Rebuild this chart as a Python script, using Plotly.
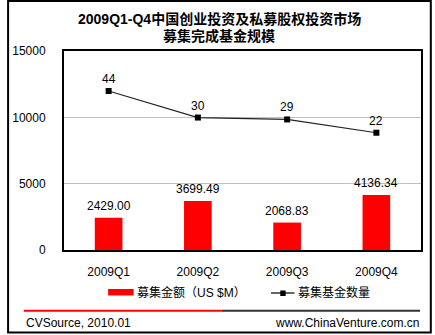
import plotly.graph_objects as go

# ---- data ----
quarters = ["2009Q1", "2009Q2", "2009Q3", "2009Q4"]
fund_amount = [2429.00, 3699.49, 2068.83, 4136.34]   # 募集金额 (US $M)
fund_count = [44, 30, 29, 22]                         # 募集基金数量
bar_name = "募集金额（US $M）"
line_name = "募集基金数量"
title_lines = ["2009Q1-Q4中国创业投资及私募股权投资市场", "募集完成基金规模"]
source_text = "CVSource, 2010.01"
site_text = "www.ChinaVenture.com.cn"
y_ticks = [0, 5000, 10000, 15000]

W, H = 435, 335
L, R, T, B = 58, 13, 51, 85
PW, PH = W - L - R, H - T - B


def px(x):
    return (x - L) / PW


def py(y):
    return (H - B - y) / PH


FONT = "Liberation Sans, Arial, Noto Sans CJK SC, sans-serif"

fig = go.Figure()
fig.add_trace(go.Bar(
    x=quarters, y=fund_amount, name=bar_name,
    marker=dict(color="#ff0000", line=dict(width=0)),
    width=0.31, showlegend=False, yaxis="y",
))
fig.add_trace(go.Scatter(
    x=quarters, y=fund_count, name=line_name, mode="lines+markers",
    line=dict(color="#222222", width=1.2),
    marker=dict(symbol="square", size=6, color="#000000"),
    showlegend=False, yaxis="y2",
))

annotations = []
for q, v in zip(quarters, fund_amount):
    annotations.append(dict(x=q, y=v, xref="x", yref="y", text=f"{v:.2f}",
                            showarrow=False, yanchor="middle", yshift=12,
                            font=dict(family=FONT, size=12, color="#000")))
for q, v in zip(quarters, fund_count):
    annotations.append(dict(x=q, y=v, xref="x", yref="y2", text=str(v),
                            showarrow=False, yanchor="middle", yshift=12,
                            font=dict(family=FONT, size=12, color="#000")))

# title
for text, yc in zip(title_lines, [19, 35.5]):
    annotations.append(dict(x=px(216.5), y=py(yc), xref="paper", yref="paper",
                            text=f"<b>{text}</b>", showarrow=False,
                            xanchor="center", yanchor="middle",
                            font=dict(family=FONT, size=14, color="#000")))

# legend texts
annotations.append(dict(x=px(131), y=py(292.5), xref="paper", yref="paper",
                        text=bar_name, showarrow=False, xanchor="left", yanchor="middle",
                        font=dict(family=FONT, size=12, color="#000"), borderpad=0))
annotations.append(dict(x=px(296), y=py(292.5), xref="paper", yref="paper",
                        text=line_name, showarrow=False, xanchor="left", yanchor="middle",
                        font=dict(family=FONT, size=12, color="#000"), borderpad=0))

# footer
annotations.append(dict(x=px(18), y=py(322.5), xref="paper", yref="paper",
                        text=source_text, showarrow=False, xanchor="left", yanchor="middle",
                        font=dict(family=FONT, size=12, color="#000"), borderpad=0))
annotations.append(dict(x=px(421), y=py(322.5), xref="paper", yref="paper",
                        text=site_text, showarrow=False, xanchor="right", yanchor="middle",
                        font=dict(family=FONT, size=12, color="#000"), borderpad=0))

shapes = [
    # outer border
    dict(type="rect", xref="paper", yref="paper", x0=px(1), x1=px(432), y0=py(1), y1=py(332.5),
         line=dict(color="#000", width=2), layer="above"),
    # legend symbols
    dict(type="rect", xref="paper", yref="paper", x0=px(103), x1=px(129), y0=py(289), y1=py(295.5),
         fillcolor="#ff0000", line=dict(width=0)),
    dict(type="line", xref="paper", yref="paper", x0=px(269), x1=px(293), y0=py(293), y1=py(293),
         line=dict(color="#000", width=1.2)),
    dict(type="rect", xref="paper", yref="paper", x0=px(278.5), x1=px(284), y0=py(290.5), y1=py(296),
         fillcolor="#000", line=dict(width=0)),
    # separator
    dict(type="line", xref="paper", yref="paper", x0=px(17), x1=px(219), y0=py(310.7), y1=py(310.7),
         line=dict(color="#ff0000", width=2)),
    dict(type="line", xref="paper", yref="paper", x0=px(219), x1=px(421), y0=py(310.7), y1=py(310.7),
         line=dict(color="#333333", width=2)),
]

fig.update_layout(
    width=W, height=H,
    margin=dict(l=L, r=R, t=T, b=B),
    paper_bgcolor="#ffffff", plot_bgcolor="#ffffff",
    bargap=0.69,
    annotations=annotations, shapes=shapes,
    font=dict(family=FONT, size=12, color="#000"),
    xaxis=dict(
        type="category", showline=True, linecolor="#000", linewidth=2, mirror=True,
        showgrid=False, ticks="", ticklabelstandoff=10,
        tickfont=dict(family=FONT, size=12, color="#000"), fixedrange=True,
    ),
    yaxis=dict(
        range=[0, 15000], tickvals=y_ticks, ticktext=[str(t) for t in y_ticks],
        showline=True, linecolor="#000", linewidth=2, mirror=True,
        showgrid=True, gridcolor="#c0c0c0", gridwidth=1, zeroline=False,
        ticks="", ticklabelstandoff=14,
        tickfont=dict(family=FONT, size=12, color="#000"), fixedrange=True,
    ),
    yaxis2=dict(range=[-39.84, 65.09], overlaying="y", visible=False, fixedrange=True),
    showlegend=False,
)

fig.write_html("out.html")
